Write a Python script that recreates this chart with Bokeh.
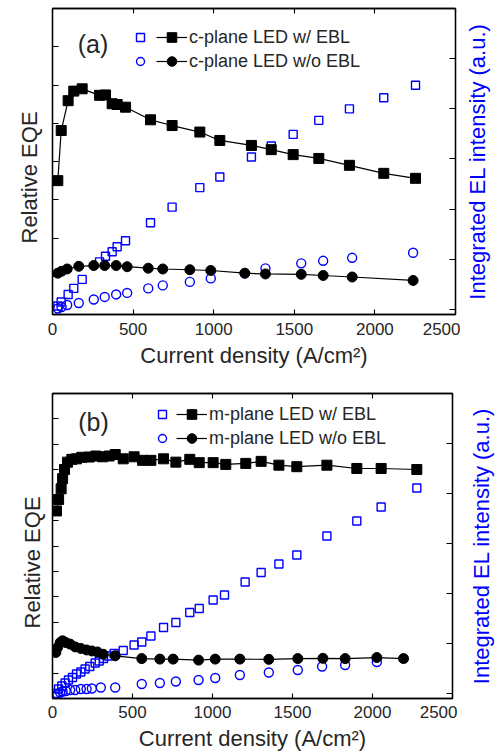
from bokeh.plotting import figure
from bokeh.models import (Range1d, LinearAxis, FixedTicker, Legend, LegendItem,
                          Label, Title, CustomJSTickFormatter)
from bokeh.layouts import column, row
from bokeh.embed import file_html
from bokeh.resources import INLINE

# ---------------- data: panel (a) c-plane ----------------
a_x_sq = [33, 54, 97, 132, 184, 292, 329, 370, 401, 453, 608, 742, 914, 1038, 1234,
          1357, 1493, 1652, 1842, 2055, 2252]
a_eqe_w = [3.50, 4.81, 5.59, 5.84, 5.90, 5.73, 5.74, 5.51, 5.49, 5.42, 5.09, 4.94, 4.77,
           4.55, 4.42, 4.31, 4.18, 4.08, 3.90, 3.69, 3.56]
a_el_w = [0.07, 0.15, 0.30, 0.42, 0.60, 0.95, 1.06, 1.15, 1.25, 1.37, 1.73, 2.04, 2.43,
          2.64, 3.04, 3.26, 3.49, 3.77, 4.00, 4.22, 4.47]

a_x_ci = [33, 56, 91, 163, 256, 324, 395, 463, 594, 684, 852, 982, 1193,
          1321, 1543, 1679, 1859, 2237]
a_eqe_wo = [1.08, 1.13, 1.19, 1.26, 1.28, 1.28, 1.28, 1.25, 1.21, 1.19, 1.17, 1.15, 1.08,
            1.06, 1.05, 1.02, 0.98, 0.89]
a_el_wo = [0.02, 0.05, 0.09, 0.13, 0.20, 0.25, 0.30, 0.33, 0.42, 0.48, 0.55, 0.62, 0.72,
           0.82, 0.92, 0.97, 1.03, 1.13]

# ---------------- data: panel (b) m-plane ----------------
b_x_sq = [25, 38, 54, 63, 75, 94, 121, 150, 183, 229, 271, 313, 354, 392, 442, 510, 563,
          615, 694, 771, 858, 917, 1004, 1083, 1208, 1304, 1415, 1527, 1715, 1902, 2054, 2277]
b_eqe_w = [7.38, 7.83, 8.25, 8.65, 9.01, 9.30, 9.41, 9.43, 9.49, 9.50, 9.54, 9.51, 9.54,
           9.60, 9.43, 9.51, 9.37, 9.37, 9.43, 9.30, 9.41, 9.28, 9.28, 9.21, 9.25, 9.33,
           9.18, 9.12, 9.18, 9.05, 9.05, 9.01]

b_x_el_sq = [17, 38, 58, 79, 100, 125, 150, 177, 204, 233, 267, 292, 319, 350, 385, 442,
             510, 558, 615, 694, 771, 858, 917, 1004, 1075, 1204, 1304, 1415, 1527, 1715,
             1902, 2054, 2277]
b_el_w = [0.0, 0.09, 0.15, 0.21, 0.27, 0.32, 0.39, 0.43, 0.49, 0.54, 0.61, 0.65, 0.70,
          0.75, 0.80, 0.86, 0.97, 1.03, 1.15, 1.32, 1.42, 1.62, 1.70, 1.87, 1.97, 2.23,
          2.42, 2.59, 2.77, 3.15, 3.45, 3.73, 4.11]

b_x_ci = [21, 31, 48, 63, 83, 110, 142, 177, 213, 246, 281, 317, 392, 558, 671, 754, 913,
          1017, 1171, 1352, 1533, 1690, 1829, 2027, 2194]
b_eqe_wo = [1.81, 2.00, 2.20, 2.27, 2.20, 2.14, 2.03, 1.97, 1.91, 1.87, 1.83, 1.74, 1.68,
            1.57, 1.55, 1.55, 1.51, 1.55, 1.55, 1.54, 1.57, 1.58, 1.57, 1.61, 1.57]

b_x_el_ci = [17, 31, 48, 63, 83, 110, 142, 177, 213, 246, 302, 392, 558, 671, 771, 913,
             1017, 1171, 1352, 1533, 1685, 1829, 2027]
b_el_wo = [-0.06, -0.01, 0.02, 0.04, 0.05, 0.07, 0.07, 0.09, 0.09, 0.10, 0.12, 0.12, 0.19,
           0.21, 0.24, 0.27, 0.31, 0.37, 0.42, 0.47, 0.54, 0.57, 0.63]

x_ticks = [0, 500, 1000, 1500, 2000, 2500]
el_ticks = [0, 1, 2, 3, 4, 5, 6]

X_LABEL = "Current density (A/cm²)"
Y_LABEL = "Relative EQE"
Y2_LABEL = "Integrated EL intensity (a.u.)"

FONT = "Liberation Sans"
TXT = "#262626"
BLUE = "#0000ff"


def blank():
    return CustomJSTickFormatter(code="return ''")


def title_strip(text, color, bl, fw, bt, fh, bb, standoff):
    """A narrow figure whose only content is a vertical axis title (reads bottom-to-top)."""
    s = figure(frame_width=fw, frame_height=fh, x_range=Range1d(0, 1), y_range=Range1d(0, 1),
               x_axis_location=None, y_axis_location=None,
               output_backend="svg", toolbar_location=None,
               min_border_left=bl, min_border_right=0, min_border_top=bt,
               min_border_bottom=bb)
    s.grid.visible = False
    s.outline_line_color = None
    s.background_fill_color = "white"
    s.border_fill_color = "white"
    ax = LinearAxis(ticker=FixedTicker(ticks=[]), formatter=blank(), axis_label=text)
    ax.axis_line_color = None
    ax.major_tick_line_color = None
    ax.minor_tick_line_color = None
    ax.major_label_text_font_size = "0px"
    ax.major_label_standoff = 0
    ax.axis_label_standoff = standoff
    ax.axis_label_text_font = FONT
    ax.axis_label_text_font_style = "normal"
    ax.axis_label_text_font_size = "22px"
    ax.axis_label_text_color = color
    s.add_layout(ax, "left")
    return s


def panel(tag, plane, eqe_max, frame_w, frame_h, bl, br, bt, bb,
          xlab_standoff, xlab_axis_standoff,
          xs_sq, eqe_w, xs_elsq, el_w, xs_ci, eqe_wo, xs_elci, el_wo,
          leg_vx_blue, leg_vx_black, leg_vy, leg_spacing, tag_xy, ytitle_offset,
          ytitle_standoff, yaxis_gap):
    p = figure(frame_width=frame_w, frame_height=frame_h,
               x_range=Range1d(0, 2500), y_range=Range1d(0, eqe_max),
               x_axis_location=None, y_axis_location=None,
               output_backend="svg", toolbar_location=None,
               min_border_left=bl, min_border_right=br, min_border_top=bt,
               min_border_bottom=bb)
    p.extra_y_ranges = {"el": Range1d(-0.1, 6.0)}
    p.grid.visible = False
    p.outline_line_color = "black"
    p.outline_line_width = 1.3
    p.background_fill_color = "white"
    p.border_fill_color = "white"

    def style(ax, tick_in):
        ax.major_tick_in = tick_in
        ax.major_tick_out = 0
        ax.minor_tick_in = 0
        ax.minor_tick_out = 0
        ax.axis_line_color = "black"
        ax.axis_line_width = 1.3
        ax.major_tick_line_width = 1.1
        ax.major_label_text_font = FONT
        ax.axis_label_text_font = FONT
        ax.axis_label_text_font_style = "normal"

    xb = LinearAxis(ticker=FixedTicker(ticks=x_ticks), axis_label=X_LABEL)
    style(xb, 5)
    xb.major_label_standoff = xlab_standoff
    xb.axis_label_standoff = xlab_axis_standoff
    xb.major_label_text_font_size = "17px"
    xb.major_label_text_color = TXT
    xb.axis_label_text_font_size = "22px"
    xb.axis_label_text_color = TXT
    p.add_layout(xb, "below")

    xt = LinearAxis(ticker=FixedTicker(ticks=x_ticks), formatter=blank())
    style(xt, 5)
    xt.major_label_standoff = 0
    xt.major_label_text_font_size = "0px"
    p.add_layout(xt, "above")

    yl = LinearAxis(ticker=FixedTicker(ticks=list(range(0, eqe_max + 1))),
                    formatter=blank())
    style(yl, 6)
    yl.major_label_standoff = yaxis_gap
    yl.major_label_text_font_size = "0px"
    p.add_layout(yl, "left")
    # left-side title reads bottom-to-top; align "left" starts it `offset` px above the frame bottom
    p.add_layout(Title(text=Y_LABEL, align="left", offset=ytitle_offset,
                       standoff=ytitle_standoff, vertical_align="top",
                       text_font=FONT, text_font_size="22px", text_font_style="normal",
                       text_color=TXT), "left")

    yr = LinearAxis(y_range_name="el", ticker=FixedTicker(ticks=el_ticks),
                    formatter=blank())
    style(yr, 6)
    yr.major_label_standoff = 0
    yr.major_label_text_font_size = "0px"
    p.add_layout(yr, "right")

    # blue EL markers (drawn first, below the black ones)
    r_elsq = p.scatter(xs_elsq, el_w, marker="square", size=8, fill_color=None,
                       line_color=BLUE, line_width=1.4, y_range_name="el")
    r_elci = p.scatter(xs_elci, el_wo, marker="circle", size=9, fill_color=None,
                       line_color=BLUE, line_width=1.4, y_range_name="el")
    # black EQE lines + markers
    l_w = p.line(xs_sq, eqe_w, line_color="black", line_width=1.2)
    r_sq = p.scatter(xs_sq, eqe_w, marker="square", size=10, color="black")
    l_wo = p.line(xs_ci, eqe_wo, line_color="black", line_width=1.2)
    r_ci = p.scatter(xs_ci, eqe_wo, marker="circle", size=10, color="black")

    def legend(items, vx, gw, standoff):
        lg = Legend(items=items, location=(vx, leg_vy), glyph_width=gw, glyph_height=24,
                    label_height=18, label_standoff=standoff, label_width=0, padding=0,
                    margin=0, spacing=leg_spacing, background_fill_alpha=0,
                    border_line_alpha=0, label_text_font=FONT,
                    label_text_font_size="18px", label_text_color=TXT)
        p.add_layout(lg)

    legend([LegendItem(label="", renderers=[r_elsq]),
            LegendItem(label="", renderers=[r_elci])], leg_vx_blue, 20, 0)
    legend([LegendItem(label=f"{plane} LED w/ EBL", renderers=[l_w, r_sq]),
            LegendItem(label=f"{plane} LED w/o EBL", renderers=[l_wo, r_ci])],
           leg_vx_black, 31, 2)

    p.add_layout(Label(x=tag_xy[0], y=tag_xy[1], text=tag, text_align="center",
                       text_baseline="middle", text_font=FONT, text_font_size="25px",
                       text_color=TXT))
    return p


# panel (a): height 8 + 306 + 71 = 385, width 52 + 403 + 5 = 460 (+38 strip)
pa = panel("(a)", "c-plane", 8, 403, 306, 52, 5, 8, 71, 8, 5,
           a_x_sq, a_eqe_w, a_x_sq, a_el_w, a_x_ci, a_eqe_wo, a_x_ci, a_el_wo,
           78, 104, 241, -8, (251, 7.08), 71, 17, 8)
ra = title_strip(Y2_LABEL, BLUE, 30, 8, 8, 306, 71, 1)

# panel (b): height 8 + 305 + 57 = 370, width 52 + 400 + 5 = 457 (+41 strip)
pb = panel("(b)", "m-plane", 12, 400, 305, 52, 5, 8, 57, 7, 5,
           b_x_sq, b_eqe_w, b_x_el_sq, b_el_w, b_x_ci, b_eqe_wo, b_x_el_ci, b_el_wo,
           100, 124, 248, -4, (256, 10.86), 70, 12, 5)
rb = title_strip(Y2_LABEL, BLUE, 36, 5, 8, 305, 57, 0)

layout = column(row(pa, ra, spacing=0), row(pb, rb, spacing=0), spacing=0)
open("out.html", "w").write(file_html(layout, INLINE))
